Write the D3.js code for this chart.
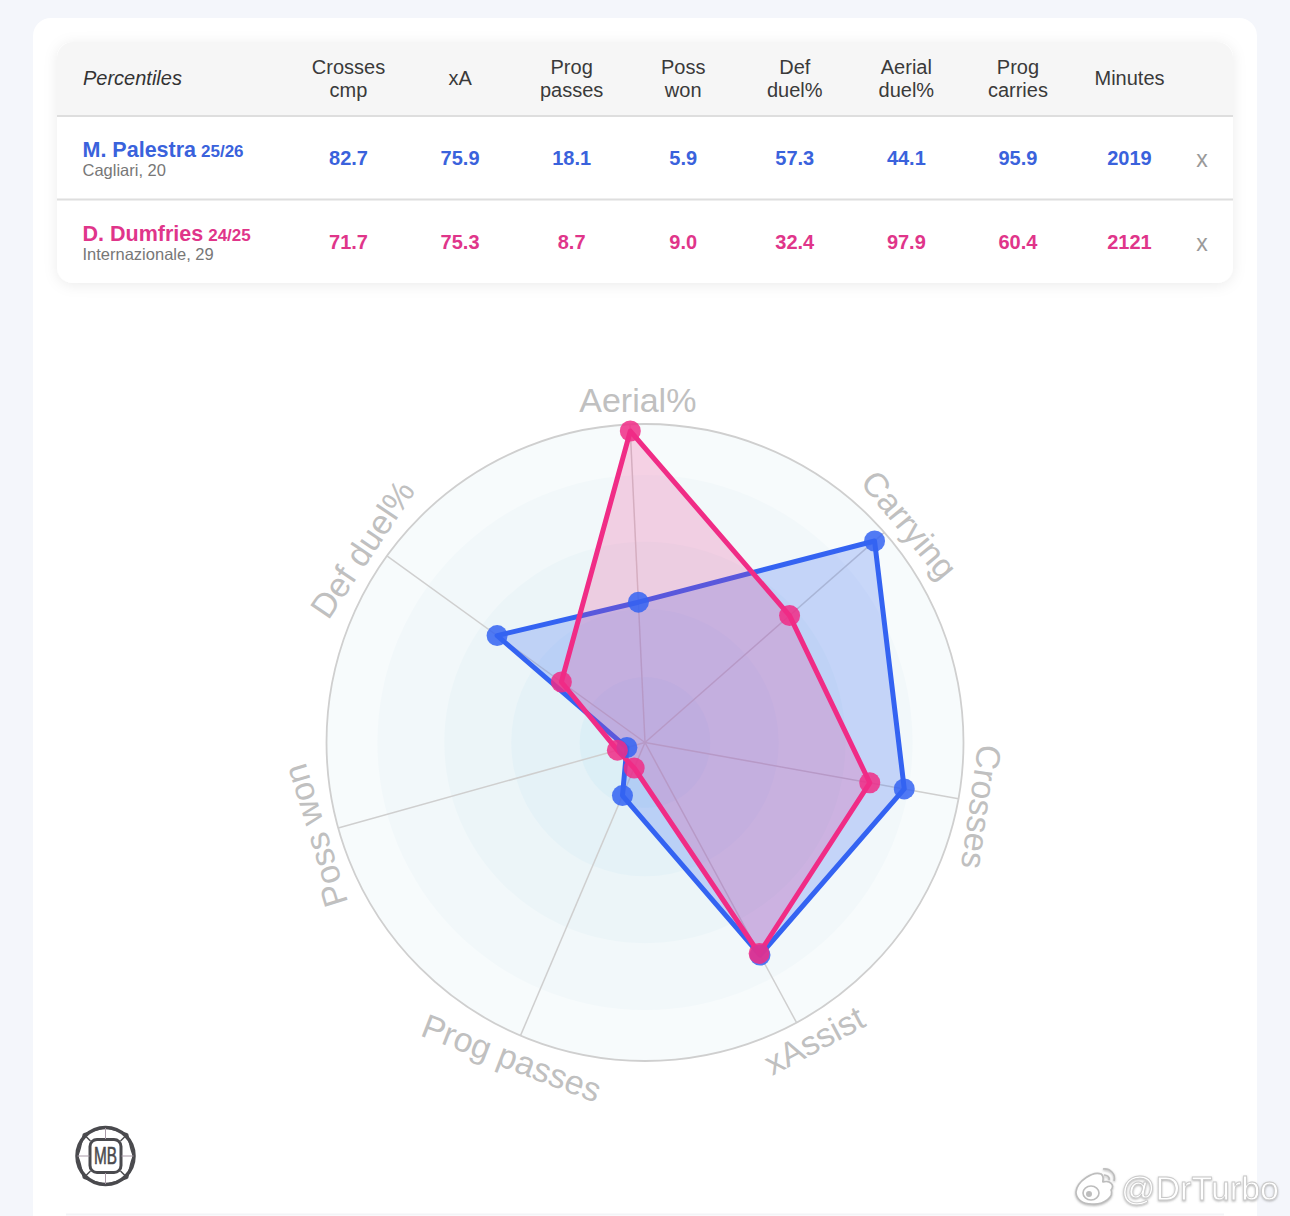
<!DOCTYPE html>
<html><head><meta charset="utf-8">
<script src="https://cdn.jsdelivr.net/npm/d3@7"></script>
<style>
html,body{margin:0;padding:0;background:#f4f6fb;overflow:hidden}
svg{display:block;font-family:"Liberation Sans",Arial,sans-serif}
</style></head><body>
<svg id="c" width="1290" height="1216"></svg>
<script>
const radarLabels=["Aerial%","Carrying","Crosses","xAssist","Prog passes","Poss won","Def duel%"];
const palestraRadar=[44.1,95.9,82.7,75.9,18.1,5.9,57.3];
const dumfriesRadar=[97.9,60.4,71.7,75.3,8.7,9.0,32.4];
const ringLevels=[100,84,63,42,20.5];
const ringColors=["#f7fbfc","#f2f8fa","#ecf5f8","#e5f2f7","#dceff6"];
const labelRotation=[0,50.5,98,-28,21,-107,-56];
const labelNudge=[1.5,1.8,0.7,-1.2,-0.1,-0.2,-1.5];
const tableTitle="Percentiles";
const tableHeaders=[["Crosses","cmp"],["xA"],["Prog","passes"],["Poss","won"],["Def","duel%"],["Aerial","duel%"],["Prog","carries"],["Minutes"]];
const palestraRow=["82.7","75.9","18.1","5.9","57.3","44.1","95.9","2019"];
const dumfriesRow=["71.7","75.3","8.7","9.0","32.4","97.9","60.4","2121"];
const players=[
 {name:"M. Palestra",season:"25/26",club:"Cagliari, 20",color:"#3463f2",tbl:"#3a62dc",row:palestraRow,radar:palestraRadar},
 {name:"D. Dumfries",season:"24/25",club:"Internazionale, 29",color:"#f02c86",tbl:"#e0358a",row:dumfriesRow,radar:dumfriesRadar}
];

const svg=d3.select("#c");
const defs=svg.append("defs");
const sh=defs.append("filter").attr("id","sh").attr("x","-5%").attr("y","-10%").attr("width","110%").attr("height","125%");
sh.append("feDropShadow").attr("dx",0).attr("dy",2).attr("stdDeviation",7).attr("flood-color","#000").attr("flood-opacity",.08);
const wm=defs.append("filter").attr("id","wm").attr("x","-10%").attr("y","-20%").attr("width","120%").attr("height","150%");
wm.append("feDropShadow").attr("dx",0).attr("dy",1).attr("stdDeviation",1.2).attr("flood-color","#777").attr("flood-opacity",.55);

svg.append("rect").attr("x",33).attr("y",18).attr("width",1224).attr("height",1240).attr("rx",18).attr("fill","#fff");
svg.append("line").attr("x1",66).attr("x2",1224).attr("y1",1214.5).attr("y2",1214.5).attr("stroke","#f3f4f7").attr("stroke-width",2);

const T=svg.append("g");
T.append("rect").attr("x",57).attr("y",42).attr("width",1176).attr("height",241).attr("rx",16).attr("fill","#fff").attr("filter","url(#sh)");
T.append("path").attr("d","M57 116V58a16 16 0 0 1 16-16H1217a16 16 0 0 1 16 16V116Z").attr("fill","#f6f6f6");
[116,199.5].forEach(y=>T.append("line").attr("x1",57).attr("x2",1233).attr("y1",y).attr("y2",y).attr("stroke","#dedede").attr("stroke-width",2));
T.append("text").attr("x",83).attr("y",85).attr("font-size",20).attr("font-style","italic").attr("fill","#333").text(tableTitle);
const colX=d3.scalePoint().domain(d3.range(8)).range([348.5,1129.5]);
tableHeaders.forEach((h,i)=>{
  const t=T.append("text").attr("text-anchor","middle").attr("font-size",20).attr("fill","#3a3a3a");
  h.forEach((s,j)=>t.append("tspan").attr("x",colX(i)).attr("y",h.length===2?74+j*23:85).text(s));
});
players.forEach((p,k)=>{
  const dy=k*84;
  const n=T.append("text").attr("x",82.5).attr("y",157+dy).attr("fill",p.tbl).attr("font-weight","bold");
  n.append("tspan").attr("font-size",21.5).text(p.name);
  n.append("tspan").attr("font-size",17).attr("dx",5).text(p.season);
  T.append("text").attr("x",82.5).attr("y",176+dy).attr("font-size",16.5).attr("fill","#777").text(p.club);
  p.row.forEach((v,i)=>T.append("text").attr("x",colX(i)).attr("y",165+dy).attr("text-anchor","middle").attr("font-size",20).attr("font-weight","bold").attr("fill",p.tbl).text(v));
  T.append("text").attr("x",1202).attr("y",167+dy).attr("text-anchor","middle").attr("font-size",23).attr("fill","#9a9a9a").text("x");
});

const cx=645,cy=742.5;
const r=d3.scaleLinear().domain([0,100]).range([0,318.5]);
const step=2*Math.PI/radarLabels.length, start=-2.7*Math.PI/180;
const ang=i=>start+i*step;
const R=svg.append("g").attr("transform",`translate(${cx},${cy})`);
ringLevels.forEach((l,i)=>R.append("circle").attr("r",r(l)).attr("fill",ringColors[i]));
R.append("circle").attr("r",r(100)).attr("fill","none").attr("stroke","#cfcfcf").attr("stroke-width",1.8);
radarLabels.forEach((_,i)=>{
  const a=ang(i);
  R.append("line").attr("x2",r(100)*Math.sin(a)).attr("y2",-r(100)*Math.cos(a)).attr("stroke","#cfcfcf").attr("stroke-width",1.5);
});
const line=d3.lineRadial().angle((d,i)=>ang(i)).radius(d=>r(d)).curve(d3.curveLinearClosed);
players.forEach((p,k)=>{
  R.append("path").attr("d",line(p.radar)).attr("fill",p.color).attr("fill-opacity",k?.2:.24).attr("stroke",p.color).attr("stroke-width",5).attr("stroke-linejoin","round");
});
players.forEach(p=>{
  p.radar.forEach((v,i)=>{
    const a=ang(i);
    R.append("circle").attr("cx",r(v)*Math.sin(a)).attr("cy",-r(v)*Math.cos(a)).attr("r",10.5).attr("fill",p.color).attr("fill-opacity",.85);
  });
});
radarLabels.forEach((s,i)=>{
  const a=ang(i)+labelNudge[i]*Math.PI/180, lr=r(100)+24;
  R.append("text").attr("transform",`translate(${lr*Math.sin(a)},${-lr*Math.cos(a)}) rotate(${labelRotation[i]})`)
   .attr("text-anchor","middle").attr("dy",".35em").attr("font-size",34).attr("fill","#c0c0c0").text(s);
});

const L=svg.append("g").attr("transform","translate(105.5,1156)").attr("fill","none").attr("stroke","#4a4a4e");
L.append("circle").attr("r",28.5).attr("stroke-width",3.5);
L.append("rect").attr("x",-15.5).attr("y",-16.5).attr("width",31).attr("height",33).attr("rx",7).attr("stroke-width",3);
[[-15,-15,-22,-22],[15,-15,22,-22],[-15,15,-22,22],[15,15,22,22]].forEach(d=>L.append("line").attr("x1",d[0]).attr("y1",d[1]).attr("x2",d[2]).attr("y2",d[3]).attr("stroke-width",1.5));
L.append("path").attr("stroke-width",1.5).attr("d","M-22-22C-12-26-6-26 0-29C6-26 12-26 22-22M-22 22C-12 26-6 26 0 29C6 26 12 26 22 22M-22-22C-25-10-25-6-28 0C-25 6-25 10-22 22M22-22C25-10 25-6 28 0C25 6 25 10 22 22");
[[0,-17,0,-28],[0,17,0,28],[-16,0,-28,0],[16,0,28,0]].forEach(d=>L.append("line").attr("x1",d[0]).attr("y1",d[1]).attr("x2",d[2]).attr("y2",d[3]).attr("stroke-width",1).attr("stroke","#a99aa8"));
svg.append("text").attr("x",105.5).attr("y",1164).attr("text-anchor","middle").attr("font-size",23).attr("stroke","#4a4a4e").attr("stroke-width",.6).attr("textLength",23).attr("lengthAdjust","spacingAndGlyphs").attr("fill","#4a4a4e").text("MB");

const W=svg.append("g").attr("filter","url(#wm)");
W.append("text").attr("x",1121).attr("y",1200).attr("font-size",34).attr("fill","#fff").attr("stroke","#c9c9c9").attr("stroke-width",.8).text("@DrTurbo");
const I=W.append("g").attr("fill","#fff").attr("stroke","#bdbdbd").attr("stroke-width",1.6);
I.append("path").attr("d","M1076 1192C1077 1181 1093 1171 1101 1174C1105 1177 1102 1182 1103 1182C1110 1180 1115 1185 1111 1190C1114 1196 1105 1205 1092 1204C1082 1204 1076 1199 1076 1192Z");
I.append("ellipse").attr("cx",1091).attr("cy",1193).attr("rx",8).attr("ry",7);
I.append("circle").attr("cx",1089).attr("cy",1194).attr("r",2.2).attr("fill","#bdbdbd");
I.append("path").attr("fill","none").attr("d","M1103 1169C1110 1168 1116 1174 1114 1181M1104 1175C1107 1175 1110 1177 1109 1180");
</script></body></html>
